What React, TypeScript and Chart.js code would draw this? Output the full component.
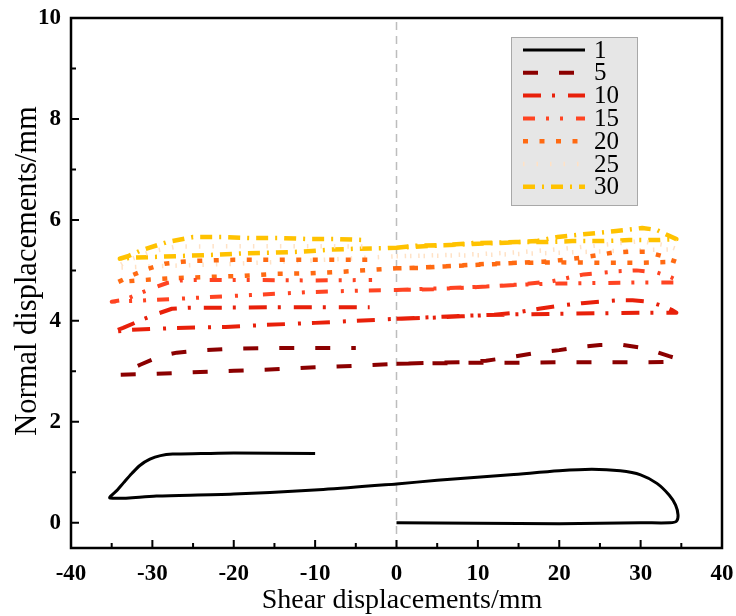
import React, { useEffect, useRef } from "react";
import { Chart, registerables } from "chart.js";

Chart.register(...registerables);

// ---- data ----
const seriesLabels = ["1", "5", "10", "15", "20", "25", "30"];
const xTitle = "Shear displacements/mm";
const yTitle = "Normal displacements/mm";

const shear1 = [0, 10, 20, 30, 33.6, 34.4, 34.6, 34.3, 33.5, 32, 30, 27.5, 24, 20, 14, 5, 0, -9, -20, -29.5, -35.2, -34.3, -33.5, -32.5, -31.5, -30.3, -29, -27.5, -24, -20, -10];
const normal1 = [0, -0.01, -0.02, 0, 0, 0.03, 0.15, 0.35, 0.55, 0.78, 0.95, 1.03, 1.06, 1.03, 0.95, 0.84, 0.77, 0.66, 0.57, 0.53, 0.49, 0.65, 0.8, 0.98, 1.14, 1.26, 1.33, 1.36, 1.37, 1.38, 1.37];

const shear5 = [0, 5, 10, 15, 20, 25, 30, 34, 34.6, 33.5, 32, 30, 27.5, 25, 22.5, 20, 17, 14, 11, 8, 5, 0, -5, -10, -15, -20, -25, -30, -34, -33, -31.5, -29, -27, -24.5, -20, -15, -10, -5];
const normal5 = [3.15, 3.16, 3.17, 3.17, 3.18, 3.18, 3.18, 3.19, 3.25, 3.3, 3.38, 3.47, 3.53, 3.52, 3.48, 3.42, 3.36, 3.28, 3.21, 3.18, 3.17, 3.15, 3.11, 3.08, 3.04, 3.01, 2.98, 2.95, 2.93, 3.02, 3.13, 3.3, 3.37, 3.41, 3.45, 3.46, 3.46, 3.46];

const shear10 = [0, 5, 10, 15, 20, 25, 30, 34.4, 33.8, 33, 31, 29, 27.5, 25, 22.8, 20, 17.5, 15, 12, 8, 4, 0, -5, -10, -16, -21, -27, -32.8, -35, -33.6, -31, -29.4, -27.6, -25.6, -22, -15, -10, -3.3];
const normal10 = [4.04, 4.08, 4.11, 4.13, 4.14, 4.15, 4.16, 4.16, 4.22, 4.28, 4.38, 4.41, 4.41, 4.38, 4.35, 4.3, 4.24, 4.17, 4.12, 4.09, 4.06, 4.04, 4.0, 3.96, 3.92, 3.88, 3.86, 3.82, 3.78, 3.86, 4.04, 4.14, 4.24, 4.26, 4.26, 4.27, 4.27, 4.27];

const shear15 = [0, 3, 8, 12, 16, 20, 25, 30, 34.6, 34.3, 33.5, 32, 29.5, 27, 23, 21, 19, 15, 10, 5, 0, -4.2, -10.7, -18, -24.2, -31.5, -35, -33.4, -31.5, -29.9, -28.2, -26.6, -24.5, -18, -10, -3];
const normal15 = [4.61, 4.63, 4.66, 4.69, 4.72, 4.74, 4.75, 4.76, 4.76, 4.82, 4.88, 4.96, 5.0, 4.98, 4.92, 4.85, 4.78, 4.72, 4.67, 4.63, 4.61, 4.6, 4.57, 4.51, 4.46, 4.4, 4.38, 4.42, 4.55, 4.65, 4.75, 4.8, 4.81, 4.81, 4.8, 4.81];

const shear20 = [0, 3, 7, 11, 15, 20, 25, 30, 34.4, 33.5, 32.5, 30.7, 28.6, 26.5, 24.7, 22.7, 20.6, 18, 15, 10, 5, 0, -3, -7, -11, -15, -19, -23, -27, -31, -34.2, -32.4, -30.6, -28.5, -26.4, -24.5, -20, -10, -2.9];
const normal20 = [5.04, 5.05, 5.09, 5.13, 5.15, 5.16, 5.15, 5.15, 5.17, 5.22, 5.29, 5.37, 5.37, 5.35, 5.3, 5.25, 5.21, 5.17, 5.15, 5.11, 5.07, 5.04, 5.01, 4.97, 4.94, 4.93, 4.89, 4.87, 4.85, 4.81, 4.77, 4.91, 5.03, 5.13, 5.17, 5.19, 5.21, 5.21, 5.21];

const shear25 = [0, 10, 20, 30, 34.5, 33, 30, 25, 20, 15, 10, 0, -10, -20, -30, -34.5, -33, -30, -27, -20, -10, -3];
const normal25 = [5.28, 5.3, 5.35, 5.4, 5.42, 5.5, 5.58, 5.5, 5.42, 5.36, 5.32, 5.28, 5.2, 5.13, 5.08, 5.05, 5.2, 5.38, 5.47, 5.48, 5.48, 5.47];

const shear30 = [0, 2.5, 6, 9.3, 14.7, 18.2, 21.6, 25.2, 28.6, 32, 34.4, 33.3, 32, 30.2, 27, 23.3, 19.8, 17.2, 14, 10, 5, 0, -1.2, -4.8, -8.2, -11.7, -15.2, -18.6, -22.1, -25.6, -29.1, -32.5, -34, -33, -31.5, -28.2, -25, -21.3, -17.7, -14.1, -10.7, -7.2, -3.7];
const normal30 = [5.45, 5.49, 5.5, 5.54, 5.56, 5.56, 5.58, 5.58, 5.6, 5.6, 5.62, 5.7, 5.8, 5.84, 5.78, 5.72, 5.66, 5.58, 5.55, 5.53, 5.49, 5.45, 5.44, 5.43, 5.41, 5.37, 5.35, 5.34, 5.31, 5.29, 5.27, 5.25, 5.23, 5.28, 5.39, 5.56, 5.66, 5.66, 5.64, 5.64, 5.62, 5.62, 5.6];

const xTicks = [-40, -30, -20, -10, 0, 10, 20, 30, 40];
const xMinorTicks = [-35, -25, -15, -5, 5, 15, 25, 35];
const yTicks = [0, 2, 4, 6, 8, 10];
const yMinorTicks = [1, 3, 5, 7, 9];

// ---- styles ----
const seriesColors = ["#000000", "#8b0000", "#e8200a", "#ff4422", "#ff6a12", "#ffe2c6", "#ffc200"];
const seriesDashes: number[][] = [[], [15, 21], [18, 11, 3, 13], [12, 11, 3, 11, 3, 13], [5, 11.5], [1.5, 12], [12, 7, 2, 7]];
const seriesWidths = [3, 4, 4, 4, 4.5, 4.5, 4.5];

const SERIF = "'Liberation Serif', 'Times New Roman', serif";

function pts(xs: number[], ys: number[]) {
  return xs.map((x, i) => ({ x, y: ys[i] }));
}

const customPlugin = {
  id: "customDecor",
  afterDatasetsDraw(chart: any) {
    const ctx = chart.ctx;
    const { left, right, top, bottom } = chart.chartArea;
    const xs = chart.scales.x;
    const ys = chart.scales.y;
    ctx.save();
    ctx.strokeStyle = "#000";
    ctx.lineWidth = 2;
    ctx.beginPath();
    xTicks.forEach((v) => {
      const px = xs.getPixelForValue(v);
      ctx.moveTo(px, bottom);
      ctx.lineTo(px, bottom - 8);
    });
    xMinorTicks.forEach((v) => {
      const px = xs.getPixelForValue(v);
      ctx.moveTo(px, bottom);
      ctx.lineTo(px, bottom - 5);
    });
    yTicks.forEach((v) => {
      const py = ys.getPixelForValue(v);
      ctx.moveTo(left, py);
      ctx.lineTo(left + 8, py);
    });
    yMinorTicks.forEach((v) => {
      const py = ys.getPixelForValue(v);
      ctx.moveTo(left, py);
      ctx.lineTo(left + 5, py);
    });
    ctx.stroke();
    ctx.lineWidth = 2.5;
    ctx.strokeRect(left, top, right - left, bottom - top);

    // axis titles
    ctx.fillStyle = "#000";
    ctx.textAlign = "center";
    ctx.textBaseline = "middle";
    ctx.font = `28px ${SERIF}`;
    ctx.fillText(xTitle, 402, 601);
    ctx.save();
    ctx.translate(28, 271);
    ctx.rotate(-Math.PI / 2);
    ctx.font = `30.5px ${SERIF}`;
    ctx.fillText(yTitle, 0, 0);
    ctx.restore();

    // legend
    const bx = 511, by = 37, bw = 126, bh = 168;
    ctx.fillStyle = "#e6e6e6";
    ctx.fillRect(bx, by, bw, bh);
    ctx.strokeStyle = "#a8a8a8";
    ctx.lineWidth = 1;
    ctx.strokeRect(bx + 0.5, by + 0.5, bw, bh);
    ctx.font = `25px ${SERIF}`;
    ctx.textBaseline = "middle";
    ctx.textAlign = "left";
    seriesLabels.forEach((lab, i) => {
      const yy = by + 13 + i * 22.8;
      ctx.save();
      ctx.strokeStyle = seriesColors[i];
      ctx.lineWidth = seriesWidths[i];
      ctx.setLineDash(seriesDashes[i]);
      ctx.lineCap = "butt";
      ctx.beginPath();
      ctx.moveTo(523, yy);
      ctx.lineTo(585, yy);
      ctx.stroke();
      ctx.restore();
      ctx.fillStyle = "#000";
      ctx.fillText(lab, 594, yy + 1);
    });
    ctx.restore();
  },
};

export default function App() {
  const ref = useRef<HTMLCanvasElement | null>(null);
  useEffect(() => {
    document.body.style.margin = "0";
    const canvas = ref.current;
    if (!canvas) return;
    const allX = [shear1, shear5, shear10, shear15, shear20, shear25, shear30];
    const allY = [normal1, normal5, normal10, normal15, normal20, normal25, normal30];
    const datasets: any[] = seriesLabels.map((lab, i) => ({
      label: lab,
      data: pts(allX[i], allY[i]),
      showLine: true,
      borderColor: seriesColors[i],
      backgroundColor: seriesColors[i],
      borderWidth: seriesWidths[i],
      borderDash: seriesDashes[i],
      borderCapStyle: "butt",
      borderJoinStyle: "round",
      pointRadius: 0,
      tension: i === 0 ? 0.3 : 0,
      fill: false,
    }));
    datasets.push({
      label: "zero",
      data: [{ x: 0, y: -0.5 }, { x: 0, y: 10 }],
      showLine: true,
      borderColor: "#bdbdbd",
      borderWidth: 1.5,
      borderDash: [8, 6],
      pointRadius: 0,
      fill: false,
    });
    const chart = new Chart(canvas, {
      type: "scatter",
      data: { datasets },
      options: {
        animation: false,
        responsive: false,
        maintainAspectRatio: false,
        layout: { padding: { top: 18, right: 14, left: 0, bottom: 0 } },
        plugins: { legend: { display: false }, tooltip: { enabled: false } },
        scales: {
          x: {
            type: "linear",
            min: -40,
            max: 40,
            afterBuildTicks: (s: any) => {
              s.ticks = xTicks.map((v) => ({ value: v }));
            },
            afterFit: (s: any) => {
              s.height = 68;
              s.paddingLeft = 0;
              s.paddingRight = 0;
            },
            grid: { display: false, drawTicks: false },
            border: { display: false },
            ticks: {
              color: "#000",
              padding: 12,
              maxRotation: 0,
              autoSkip: false,
              font: { family: SERIF, size: 23, weight: "bold" },
            },
            title: { display: false },
          },
          y: {
            type: "linear",
            min: -0.5,
            max: 10,
            afterBuildTicks: (s: any) => {
              s.ticks = yTicks.map((v) => ({ value: v }));
            },
            afterFit: (s: any) => {
              s.width = 71;
              s.paddingTop = 0;
              s.paddingBottom = 0;
            },
            grid: { display: false, drawTicks: false },
            border: { display: false },
            ticks: {
              color: "#000",
              padding: 10,
              autoSkip: false,
              font: { family: SERIF, size: 23, weight: "bold" },
            },
            title: { display: false },
          },
        },
      },
      plugins: [customPlugin],
    });
    return () => chart.destroy();
  }, []);
  return (
    <div style={{ width: 736, height: 616 }}>
      <canvas ref={ref} width={736} height={616} style={{ display: "block" }} />
    </div>
  );
}
